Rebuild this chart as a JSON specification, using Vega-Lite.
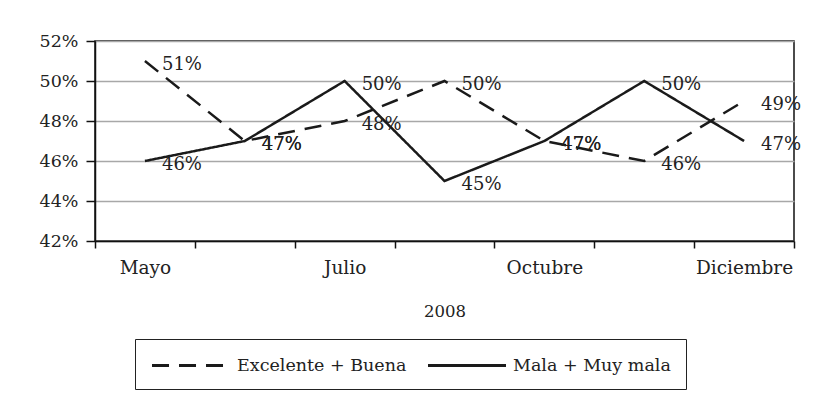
{
  "$schema": "https://vega.github.io/schema/vega-lite/v6.json",
  "width": 699,
  "height": 200,
  "autosize": {"type": "none"},
  "padding": {"left": 95, "top": 41, "right": 33, "bottom": 174},
  "background": "white",
  "config": {
    "font": "DejaVu Serif",
    "view": {"stroke": "#111", "strokeWidth": 1.5}
  },
  "data": {
    "values": [
      {"mes": "Mayo", "serie": "Excelente + Buena", "valor": 0.51},
      {"mes": "Junio", "serie": "Excelente + Buena", "valor": 0.47},
      {"mes": "Julio", "serie": "Excelente + Buena", "valor": 0.48},
      {"mes": "Septiembre", "serie": "Excelente + Buena", "valor": 0.50},
      {"mes": "Octubre", "serie": "Excelente + Buena", "valor": 0.47},
      {"mes": "Noviembre", "serie": "Excelente + Buena", "valor": 0.46},
      {"mes": "Diciembre", "serie": "Excelente + Buena", "valor": 0.49},
      {"mes": "Mayo", "serie": "Mala + Muy mala", "valor": 0.46},
      {"mes": "Junio", "serie": "Mala + Muy mala", "valor": 0.47},
      {"mes": "Julio", "serie": "Mala + Muy mala", "valor": 0.50},
      {"mes": "Septiembre", "serie": "Mala + Muy mala", "valor": 0.45},
      {"mes": "Octubre", "serie": "Mala + Muy mala", "valor": 0.47},
      {"mes": "Noviembre", "serie": "Mala + Muy mala", "valor": 0.50},
      {"mes": "Diciembre", "serie": "Mala + Muy mala", "valor": 0.47}
    ]
  },
  "encoding": {
    "x": {
      "field": "mes",
      "type": "nominal",
      "sort": null,
      "bandPosition": 0.5,
      "scale": {"type": "band", "paddingInner": 0, "paddingOuter": 0},
      "axis": {
        "title": "2008",
        "titleFont": "DejaVu Serif",
        "titleFontSize": 16.5,
        "titleFontWeight": "normal",
        "titleColor": "#222",
        "titleY": 62,
        "titleBaseline": "top",
        "tickBand": "extent",
        "tickSize": 7,
        "tickColor": "#111",
        "tickWidth": 1.5,
        "domainColor": "#111",
        "domainWidth": 1.5,
        "labelAngle": 0,
        "labelFont": "DejaVu Serif",
        "labelFontSize": 18.5,
        "labelColor": "#222",
        "labelPadding": 10,
        "labelExpr": "indexof(['Mayo','Julio','Octubre','Diciembre'], datum.value) >= 0 ? datum.label : ''",
        "grid": false
      }
    },
    "y": {
      "field": "valor",
      "type": "quantitative",
      "scale": {"domain": [0.42, 0.52], "nice": false, "zero": false},
      "axis": {
        "title": null,
        "format": ".0%",
        "values": [0.42, 0.44, 0.46, 0.48, 0.5, 0.52],
        "tickSize": 9,
        "tickColor": "#111",
        "tickWidth": 1.5,
        "domainColor": "#111",
        "domainWidth": 1.5,
        "labelFont": "DejaVu Serif",
        "labelFontSize": 17.5,
        "labelColor": "#222",
        "labelPadding": 8,
        "grid": true,
        "gridColor": "#a8a8a8",
        "gridWidth": 1.5
      }
    }
  },
  "layer": [
    {
      "mark": {"type": "line", "color": "#1a1a1a", "strokeWidth": 2.5},
      "encoding": {
        "strokeDash": {
          "field": "serie",
          "type": "nominal",
          "sort": ["Excelente + Buena", "Mala + Muy mala"],
          "scale": {"domain": ["Excelente + Buena", "Mala + Muy mala"], "range": [[17, 10], [1, 0]]},
          "legend": {
            "title": null,
            "orient": "none",
            "direction": "horizontal",
            "legendX": 40,
            "legendY": 298,
            "strokeColor": "#222",
            "padding": 15,
            "symbolType": "M-4,0H4",
            "symbolSize": 380,
            "symbolOffset": 29.5,
            "symbolStrokeWidth": 2.8,
            "symbolStrokeColor": "#1a1a1a",
            "symbolDash": [18, 11],
            "labelFont": "DejaVu Serif",
            "labelFontSize": 17.5,
            "labelColor": "#222",
            "labelOffset": 34.5,
            "columnPadding": 15,
            "labelLimit": 300
          }
        }
      }
    },
    {
      "mark": {"type": "text", "align": "left", "baseline": "middle", "dx": 17, "dy": 4, "font": "DejaVu Serif", "fontSize": 18, "color": "#222"},
      "encoding": {
        "text": {"field": "valor", "type": "quantitative", "format": ".0%"},
        "detail": {"field": "serie"}
      }
    }
  ]
}
